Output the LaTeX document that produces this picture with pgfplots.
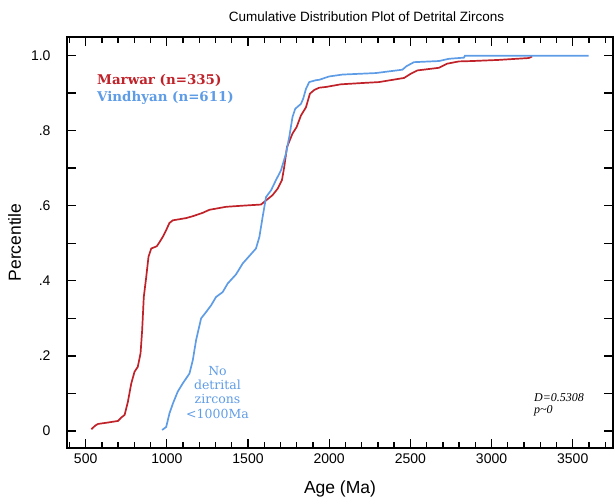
\documentclass[border=0pt]{standalone}
\usepackage{fontspec}
\setmainfont{Liberation Sans}
\newfontfamily\dvserif{DejaVu Serif}
\newfontfamily\libserif{Liberation Serif}
\usepackage{pgfplots}
\pgfplotsset{compat=1.18}
\definecolor{mred}{RGB}{192,34,42}
\definecolor{vblue}{RGB}{95,156,230}
\begin{document}
\begin{tikzpicture}
\path[draw=none, fill=none] (0pt,0pt) rectangle (614pt,502pt);
\begin{axis}[
  at={(67pt,54pt)}, anchor=south west,
  scale only axis, width=546pt, height=411pt,
  xmin=385, xmax=3748, ymin=-0.045, ymax=1.049,
  axis line style={line width=1.3pt},
  tick align=inside,
  every tick/.style={black, line width=1.3pt},
  major tick length=9pt, minor tick length=6pt,
  xtick={500,1000,1500,2000,2500,3000,3500},
  minor xtick={400,600,700,800,900,1100,1200,1300,1400,1600,1700,1800,1900,2100,2200,2300,2400,2600,2700,2800,2900,3100,3200,3300,3400,3600,3700},
  ytick={0,0.1,0.2,0.3,0.4,0.5,0.6,0.7,0.8,0.9,1.0},
  yticklabels={0,,.2,,.4,,.6,,.8,,1.0},
  /pgf/number format/assume math mode=true,
  /pgf/number format/1000 sep={},
  tick label style={font=\fontsize{14}{16}\selectfont},
  xticklabel style={yshift=-2pt},
  yticklabel style={xshift=-13pt},
  xlabel={Age (Ma)}, ylabel={Percentile},
  label style={font=\fontsize{17.5}{20}\selectfont},
  xlabel style={yshift=-11pt},
  ylabel style={yshift=3pt},
  clip=false,
]
\addplot[mred, line width=1.7pt] coordinates {
(535,0.005)(560,0.015)(576,0.019)(640,0.023)(699,0.027)(719,0.036)(740,0.043)(760,0.078)(781,0.127)(801,0.158)(821,0.171)(838,0.207)(848,0.269)(858,0.357)(873,0.41)(887,0.464)(904,0.486)(938,0.492)(955,0.503)(975,0.517)(996,0.535)(1016,0.554)(1037,0.561)(1119,0.567)(1160,0.572)(1221,0.581)(1262,0.589)(1365,0.597)(1467,0.600)(1580,0.603)(1611,0.614)(1651,0.628)(1682,0.645)(1709,0.668)(1723,0.703)(1740,0.756)(1774,0.792)(1799,0.809)(1826,0.840)(1857,0.862)(1881,0.898)(1908,0.908)(1938,0.914)(1980,0.916)(2071,0.923)(2184,0.926)(2307,0.929)(2461,0.940)(2502,0.951)(2543,0.960)(2676,0.967)(2727,0.978)(2799,0.984)(2881,0.985)(3045,0.988)(3229,0.993)(3250,0.997)
};
\addplot[vblue, line width=1.7pt] coordinates {
(971,0.003)(996,0.011)(1016,0.047)(1037,0.073)(1067,0.105)(1098,0.127)(1139,0.153)(1160,0.189)(1180,0.242)(1211,0.300)(1242,0.317)(1273,0.335)(1303,0.357)(1344,0.370)(1375,0.393)(1426,0.417)(1467,0.446)(1508,0.466)(1549,0.486)(1570,0.517)(1590,0.570)(1611,0.623)(1642,0.641)(1672,0.668)(1703,0.694)(1734,0.739)(1754,0.783)(1774,0.836)(1791,0.858)(1826,0.871)(1840,0.885)(1857,0.911)(1877,0.929)(1918,0.934)(1938,0.935)(2000,0.944)(2082,0.949)(2287,0.953)(2451,0.962)(2475,0.971)(2522,0.982)(2676,0.985)(2738,0.991)(2830,0.994)(2836,0.999)(3598,0.999)
};
\end{axis}
\node[font=\fontsize{13.5}{16}\selectfont] at (366.5pt,485pt) {Cumulative Distribution Plot of Detrital Zircons};
\node[anchor=base west, inner sep=0pt, text=mred, font=\dvserif\bfseries\fontsize{13.4}{16}\selectfont] at (97pt,417pt) {Marwar (n=335)};
\node[anchor=base west, inner sep=0pt, text=vblue, font=\dvserif\bfseries\fontsize{13.4}{16}\selectfont] at (97pt,400pt) {Vindhyan (n=611)};
\node[align=center, text=vblue, inner sep=0pt, font=\dvserif\fontsize{12.5}{14.4}\selectfont, anchor=base] at (217.5pt,83.7pt) {No\\detrital\\zircons\\<1000Ma};
\node[align=left, anchor=base west, inner sep=0pt, font=\libserif\itshape\fontsize{12}{12}\selectfont] at (534pt,88pt) {D=0.5308\\p\textasciitilde0};
\end{tikzpicture}
\end{document}
